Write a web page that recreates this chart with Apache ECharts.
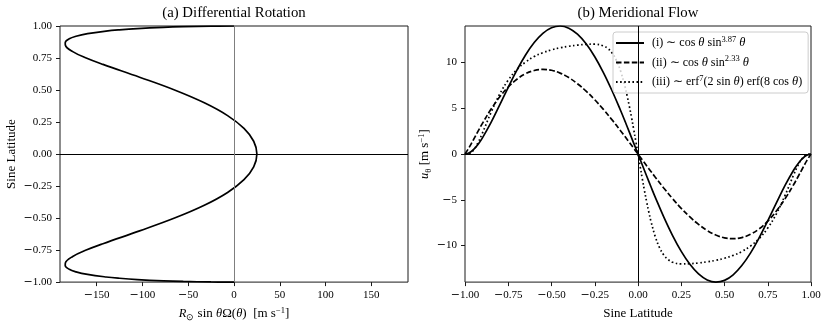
<!DOCTYPE html>
<html>
<head>
<meta charset="utf-8">
<script src="https://cdn.jsdelivr.net/npm/echarts@6/dist/echarts.min.js"></script>
<style>
    html, body { margin: 0; padding: 0; background: #fff; }
    #chart { width: 830px; height: 327px; }
</style>
</head>
<body>
<div id="chart"></div>
<script>
    // (a) differential rotation: sine latitude vs velocity [m/s]
    const rotLat = [-1, -0.999, -0.995, -0.99, -0.98, -0.97, -0.96, -0.94, -0.92, -0.9, -0.87, -0.85, -0.8, -0.75, -0.7, -0.6, -0.5, -0.4, -0.3, -0.2, -0.1,
        0, 0.1, 0.2, 0.3, 0.4, 0.5, 0.6, 0.7, 0.75, 0.8, 0.85, 0.87, 0.9, 0.92, 0.94, 0.96, 0.97, 0.98, 0.99, 0.995, 0.999, 1];
    const rotVel = [0, -25.1, -55.4, -77.1, -105.5, -125.1, -139.7, -159.9, -172.5, -179.9, -184.3, -184.1, -176.1, -161.4, -143.1, -103.1, -64.9, -32.4, -7.0, 10.9, 21.5,
        25.0, 21.5, 10.9, -7.0, -32.4, -64.9, -103.1, -143.1, -161.4, -176.1, -184.1, -184.3, -179.9, -172.5, -159.9, -139.7, -125.1, -105.5, -77.1, -55.4, -25.1, 0];

    // (b) meridional flow profiles
    const flowLat = [-1, -0.975, -0.95, -0.925, -0.9, -0.85, -0.8, -0.75, -0.7, -0.65, -0.6, -0.55, -0.5, -0.45, -0.4, -0.35, -0.3, -0.25, -0.2, -0.15, -0.1, -0.075, -0.05, -0.025,
        0, 0.025, 0.05, 0.075, 0.1, 0.15, 0.2, 0.25, 0.3, 0.35, 0.4, 0.45, 0.5, 0.55, 0.6, 0.65, 0.7, 0.75, 0.8, 0.85, 0.9, 0.925, 0.95, 0.975, 1];
    const flowI = [0, 0.14, 0.51, 1.05, 1.74, 3.43, 5.34, 7.30, 9.17, 10.83, 12.19, 13.20, 13.81, 14.00, 13.76, 13.10, 12.05, 10.64, 8.91, 6.92, 4.73, 3.58, 2.40, 1.20,
        0, -1.20, -2.40, -3.58, -4.73, -6.92, -8.91, -10.64, -12.05, -13.10, -13.76, -14.00, -13.81, -13.20, -12.19, -10.83, -9.17, -7.30, -5.34, -3.43, -1.74, -1.05, -0.51, -0.14, 0];
    const flowII = [0, 0.75, 1.61, 2.48, 3.33, 4.89, 6.23, 7.33, 8.18, 8.78, 9.13, 9.25, 9.16, 8.85, 8.36, 7.69, 6.88, 5.94, 4.88, 3.74, 2.53, 1.91, 1.28, 0.64,
        0, -0.64, -1.28, -1.91, -2.53, -3.74, -4.88, -5.94, -6.88, -7.69, -8.36, -8.85, -9.16, -9.25, -9.13, -8.78, -8.18, -7.33, -6.23, -4.89, -3.33, -2.48, -1.61, -0.75, 0];
    const latIII = [-1, -0.975, -0.95, -0.925, -0.9, -0.85, -0.8, -0.75, -0.7, -0.65, -0.6, -0.55, -0.5, -0.45, -0.4, -0.35, -0.3, -0.25, -0.2, -0.175, -0.15, -0.125, -0.1, -0.075, -0.0625, -0.05, -0.0375, -0.025, -0.0125,
        0, 0.0125, 0.025, 0.0375, 0.05, 0.0625, 0.075, 0.1, 0.125, 0.15, 0.175, 0.2, 0.25, 0.3, 0.35, 0.4, 0.45, 0.5, 0.55, 0.6, 0.65, 0.7, 0.75, 0.8, 0.85, 0.9, 0.925, 0.95, 0.975, 1];
    const flowIII = [0, 0.06, 0.46, 1.23, 2.26, 4.52, 6.53, 8.09, 9.24, 10.06, 10.66, 11.08, 11.39, 11.62, 11.78, 11.91, 11.99, 12.01, 11.83, 11.55, 11.06, 10.25, 9.04, 7.36, 6.34, 5.22, 4.01, 2.72, 1.37,
        0, -1.37, -2.72, -4.01, -5.22, -6.34, -7.36, -9.04, -10.25, -11.06, -11.55, -11.83, -12.01, -11.99, -11.91, -11.78, -11.62, -11.39, -11.08, -10.66, -10.06, -9.24, -8.09, -6.53, -4.52, -2.26, -1.23, -0.46, -0.06, 0];

    // tick labels
    const rotTicks = [-150, -100, -50, 0, 50, 100, 150];
    const latTicks = [-1, -0.75, -0.5, -0.25, 0, 0.25, 0.5, 0.75, 1];
    const flowTicks = [-10, -5, 0, 5, 10];

    const seriesNames = ['(i)', '(ii)', '(iii)'];
    const legendText = {
        '(i)': ' (i) \u223c cos {it|\u03b8} sin{sup|3.87} {it|\u03b8}',
        '(ii)': ' (ii) \u223c cos {it|\u03b8} sin{sup|2.33} {it|\u03b8}',
        '(iii)': ' (iii) \u223c erf{sup|7}(2 sin {it|\u03b8}) erf(8 cos {it|\u03b8})'
    };

    const FONT = 'Liberation Serif';
    const rich = {
        it: {fontFamily: FONT, fontStyle: 'italic', fontSize: 12.5, color: '#000'},
        sup: {fontFamily: FONT, fontSize: 8.5, lineHeight: 8, verticalAlign: 'top', color: '#000'},
        sub: {fontFamily: FONT, fontSize: 8.5, lineHeight: 8, verticalAlign: 'bottom', color: '#000'}
    };
    // wide minus sign, like the TeX one in the original
    const minus = s => {
        s = String(s);
        return s.charAt(0) === '-' ? '{m|\u2212}' + s.slice(1) : s;
    };
    const frame = '#1a1a1a';

    function valueAxis(grid, min, max, ticks, fmt, name, gap, rotate, margin) {
        return {
            gridIndex: grid, type: 'value', min: min, max: max,
            splitLine: {show: false},
            axisLine: {show: false, onZero: false},
            axisTick: {show: true, length: 4, customValues: ticks, lineStyle: {color: frame, width: 1}},
            axisLabel: {
                customValues: ticks, formatter: fmt, margin: margin, fontFamily: FONT, fontSize: 11, color: '#000',
                rich: {m: {fontFamily: 'DejaVu Serif', fontSize: 11, color: '#000'}}
            },
            name: name, nameLocation: 'middle', nameGap: gap, nameRotate: rotate,
            nameTextStyle: {fontFamily: FONT, fontSize: 13, color: '#000', lineHeight: 16, rich: rich}
        };
    }

    let myChart = echarts.init(document.getElementById('chart'));
    myChart.setOption({
        animation: false,
        backgroundColor: '#fff',
        title: [
            {text: '(a) Differential Rotation', left: 234, top: 6, padding: 0, textAlign: 'center',
                textStyle: {fontFamily: FONT, fontSize: 14.8, fontWeight: 'normal', color: '#000'}},
            {text: '(b) Meridional Flow', left: 638, top: 6, padding: 0, textAlign: 'center',
                textStyle: {fontFamily: FONT, fontSize: 14.8, fontWeight: 'normal', color: '#000'}}
        ],
        grid: [
            {left: 60, top: 26, width: 348, height: 257, show: true, borderColor: frame, borderWidth: 1},
            {left: 465, top: 26, width: 346, height: 257, show: true, borderColor: frame, borderWidth: 1}
        ],
        legend: {
            data: seriesNames, orient: 'vertical', left: 613, top: 32,
            itemWidth: 28, itemHeight: 10, itemGap: 3.5,
            padding: [3, 6, 3, 2],
            backgroundColor: 'rgba(255,255,255,0.8)', borderColor: '#cccccc', borderWidth: 1, borderRadius: 3,
            selectedMode: false,
            itemStyle: {opacity: 0},
            formatter: name => legendText[name],
            textStyle: {fontFamily: FONT, fontSize: 12, color: '#000', lineHeight: 16, rich: rich}
        },
        xAxis: [
            valueAxis(0, -190, 190, rotTicks, v => minus(v),
                '{it|R}{sub|\u2299} sin {it|\u03b8}\u03a9({it|\u03b8})  [m s{sup|\u22121}]', 22, 0, 8),
            valueAxis(1, -1, 1, latTicks, v => minus(v.toFixed(2)), 'Sine Latitude', 22, 0, 8)
        ],
        yAxis: [
            valueAxis(0, -1, 1, latTicks, v => minus(v.toFixed(2)), 'Sine Latitude', 40, 90, 8),
            valueAxis(1, -14, 14, flowTicks, v => minus(v), '{it|u}{sub|\u03b8} [m s{sup|\u22121}]', 32, 90, 8)
        ],
        series: [
            {
                name: 'rotation', type: 'line', xAxisIndex: 0, yAxisIndex: 0,
                data: rotVel.map((v, i) => [v, rotLat[i]]),
                symbol: 'none', smooth: 0.4,
                lineStyle: {color: '#000', width: 1.7},
                markLine: {
                    silent: true, symbol: 'none', label: {show: false},
                    data: [
                        {yAxis: 0, lineStyle: {color: '#000', width: 1, type: 'solid'}},
                        {xAxis: 0, lineStyle: {color: '#7f7f7f', width: 1, type: 'solid'}}
                    ]
                }
            },
            {
                name: '(i)', type: 'line', xAxisIndex: 1, yAxisIndex: 1,
                data: flowI.map((v, i) => [flowLat[i], v]),
                symbol: 'none', smooth: 0.4, color: '#000',
                lineStyle: {color: '#000', width: 1.7, type: 'solid'},
                markLine: {
                    silent: true, symbol: 'none', label: {show: false},
                    lineStyle: {color: '#000', width: 1, type: 'solid'},
                    data: [{yAxis: 0}, {xAxis: 0}]
                }
            },
            {
                name: '(ii)', type: 'line', xAxisIndex: 1, yAxisIndex: 1,
                data: flowII.map((v, i) => [flowLat[i], v]),
                symbol: 'none', smooth: 0.4, color: '#000',
                lineStyle: {color: '#000', width: 1.7, type: [5.5, 2.4]}
            },
            {
                name: '(iii)', type: 'line', xAxisIndex: 1, yAxisIndex: 1,
                data: flowIII.map((v, i) => [latIII[i], v]),
                symbol: 'none', smooth: 0.4, color: '#000',
                lineStyle: {color: '#000', width: 1.7, type: [1.6, 2.5]}
            }
        ]
    });
</script>
</body>
</html>
